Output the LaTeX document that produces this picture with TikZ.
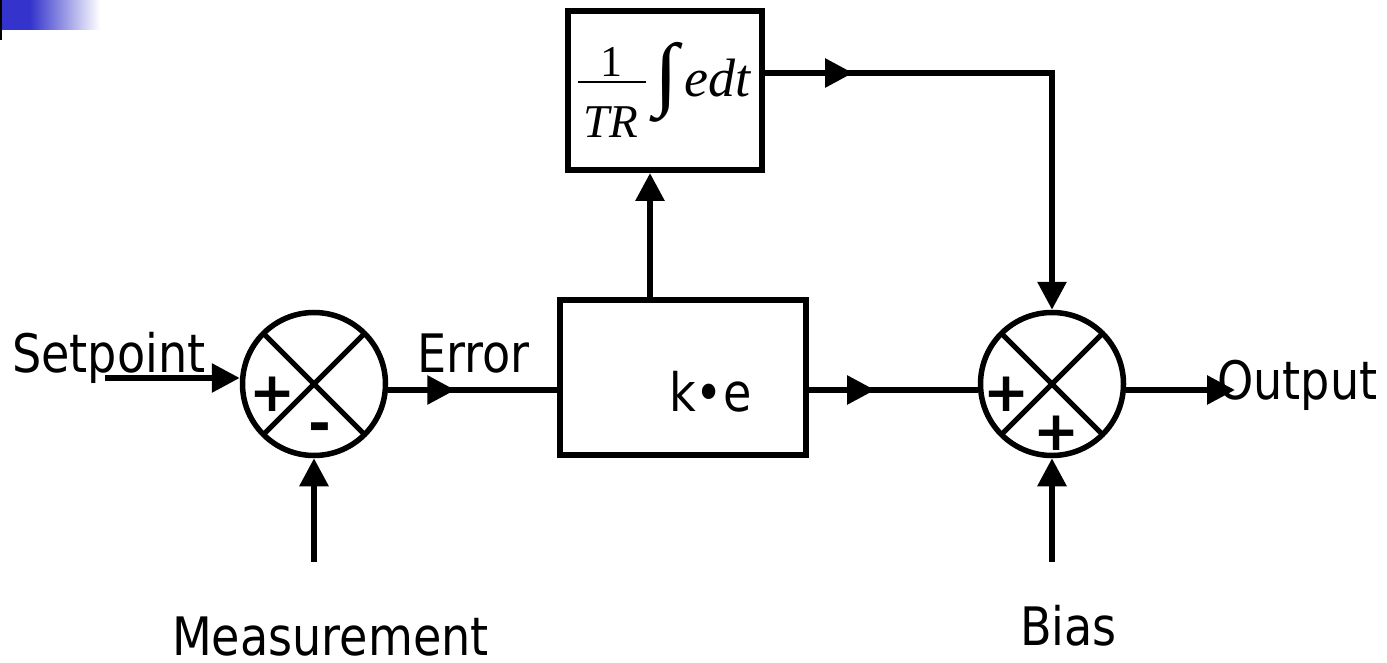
\documentclass[tikz,border=0pt]{standalone}
\usepackage{fontspec}
\usetikzlibrary{arrows.meta,decorations.markings,calc}
\newfontfamily\lab{DejaVu Sans}[FakeStretch=0.87]
\newfontfamily\sym{DejaVu Sans}
\newfontfamily\tnr{Liberation Serif}
\definecolor{hdrblue}{RGB}{52,52,204}
\begin{document}
\begin{tikzpicture}[x=1pt,y=-1pt,
  wire/.style={line width=6pt},
  arr/.style={wire,-{Triangle[length=28pt,width=28pt]}},
  midarr/.style={wire,postaction={decorate},decoration={markings,mark=at position #1 with {\arrow{Triangle[length=28pt,width=28pt]}}}},
  blockbox/.style={draw,rectangle,line width=6pt,inner sep=0pt},
  sumnode/.style={draw,circle,line width=5.5pt,minimum size=143pt,inner sep=0pt},
  crossline/.style={line width=5pt},
  txtlab/.style={inner sep=0pt,anchor=base west,font=\lab\fontsize{53}{60}\selectfont},
  sign/.style={inner sep=0pt,font=\sym\bfseries\fontsize{55}{60}\selectfont},
  serif/.style={inner sep=0pt,anchor=base},
]
\useasboundingbox (0,0) rectangle (1387,663);
% header decoration
\fill[hdrblue] (0,0) rectangle (30,30);
\shade[left color=hdrblue,right color=white] (30,0) rectangle (100,30);
\fill[black] (0,0) rectangle (2,40);

% blocks
\node[blockbox,minimum width=194pt,minimum height=159pt] (intbox) at (665,90.5) {};
\node[blockbox,minimum width=246pt,minimum height=155pt] (gain) at (683,377.5) {};
\node[txtlab] (ke) at (669,411) {k•e};

% integral expression
\node[serif,font=\tnr\fontsize{44}{44}\selectfont] (num) at (611,77) {1};
\draw[line width=2.5pt] (578,82) -- (646,82);
\node[serif,font=\tnr\itshape\fontsize{47}{47}\selectfont] (den) at (611,138) {TR};
\node[inner sep=0pt] (intg) at (666,82) {\resizebox*{24pt}{80pt}{\tnr\fontsize{54}{60}\selectfont ∫}};
\node[serif,anchor=base west,font=\tnr\itshape\fontsize{54}{60}\selectfont] (edt) at (684,97) {edt};

% summing junctions
\node[sumnode] (s1) at (314,384) {};
\node[sumnode] (s2) at (1052,384) {};
\foreach \s in {s1,s2}{
  \draw[crossline] ($(\s.center)+(45:71)$) -- ($(\s.center)+(225:71)$);
  \draw[crossline] ($(\s.center)+(135:71)$) -- ($(\s.center)+(315:71)$);
}
\node[sign] (p1) at (273,394) {+};
\node[sign] (m1) at (320,433) {-};
\node[sign] (p2) at (1007,394) {+};
\node[sign] (p3) at (1057,433) {+};

% connectors
\coordinate (spin) at (105,378);
\draw[arr] (spin) -- (spin -| s1.west);
\coordinate (e1) at ($(s1.east)+(0,6)$);
\draw[midarr=67pt] (e1) -- (e1 -| gain.west);
\coordinate (e2) at ($(gain.east)+(0,12.5)$);
\draw[midarr=66pt] (e2) -- (e2 -| s2.west);
\coordinate (e3) at ($(s2.east)+(0,6)$);
\coordinate (outp) at (1235,390);
\draw[arr] (e3) -- (outp);
\coordinate (vx) at (650,0);
\draw[arr] (gain.north -| vx) -- (intbox.south -| vx);
\coordinate (ty) at (0,73);
\draw[arr,midarr=88pt,line join=miter] (intbox.east |- ty) -- (s2.north |- ty) -- (s2.north);
\coordinate (mb) at (314,562);
\draw[arr] (mb) -- (s1.south);
\coordinate (bb) at (1052,562);
\draw[arr] (bb) -- (s2.south);

% labels
\node[txtlab] (setp) at (12,372) {Setpoint};
\node[txtlab] (err) at (417,372) {Error};
\node[txtlab] (outl) at (1217,399) {Output};
\node[txtlab] (meas) at (172,655) {Measurement};
\node[txtlab] (bias) at (1020,645) {Bias};
\end{tikzpicture}
\end{document}
